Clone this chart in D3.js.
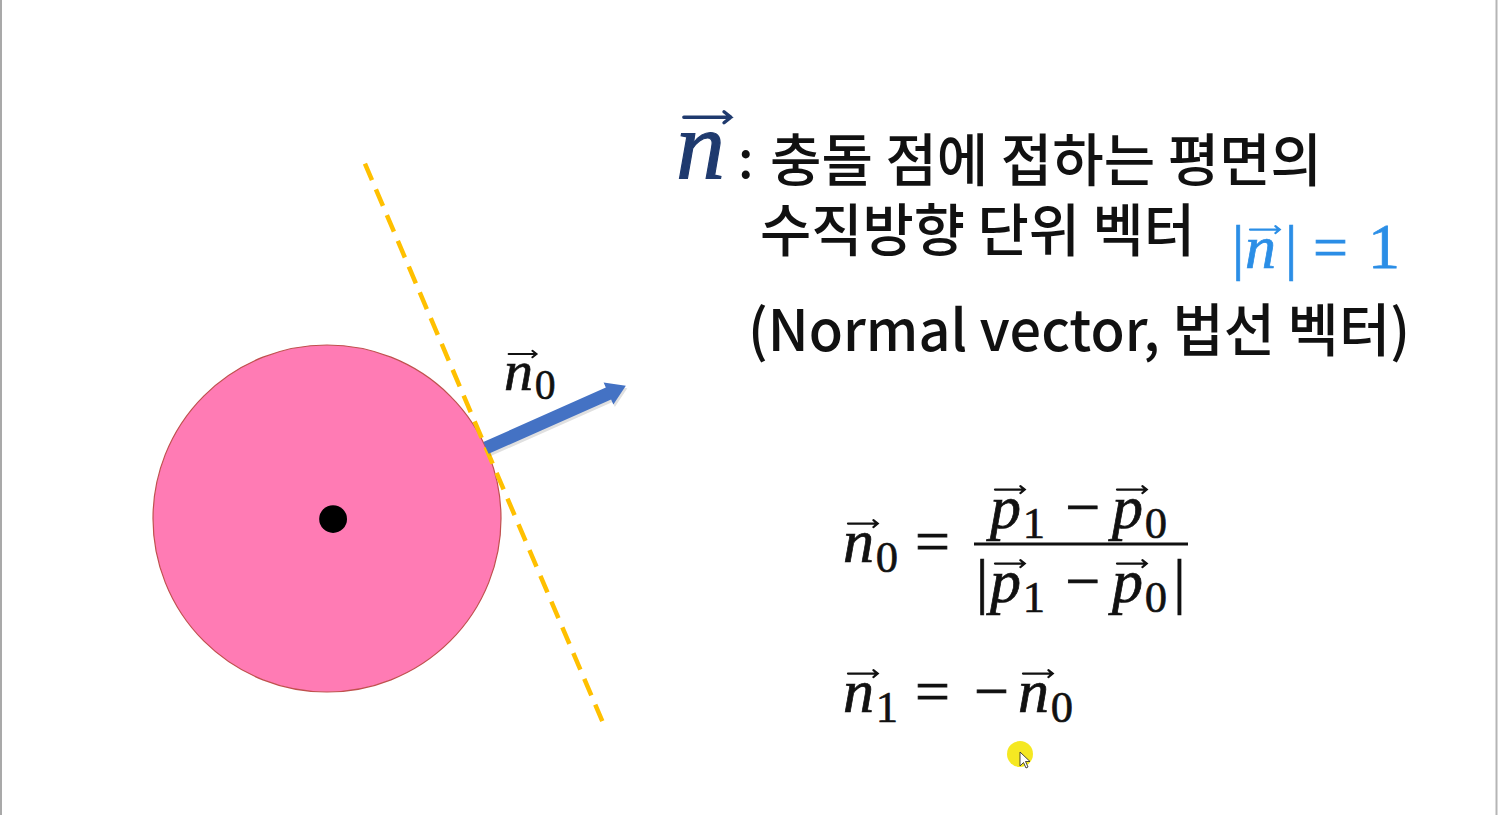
<!DOCTYPE html>
<html>
<head>
<meta charset="utf-8">
<script src="https://cdn.jsdelivr.net/npm/d3@7"></script>
<style>
  html, body { margin: 0; padding: 0; background: #fff; }
  svg { display: block; }
</style>
</head>
<body>
<div id="slide"></div>
<script>
// scene values, in "body radius" units (center of the ball is the origin, y up)
var bodyCenter = [0, 0];
var bodyRadius = 1;
var dotRadius = 0.08;
var normalAngle = 24;          // degrees above horizontal
var normalLength = 0.88;
var tangentRange = [-1.78, 1.73];

// text of the slide
var titleLines = ["충돌 점에 접하는 평면의", "수직방향 단위 벡터", "(Normal vector, 법선 벡터)"];
var unitNote = ["|", "n", "|", "=", "1"];
var formulaTerms = ["p", "1", "p", "0"];

var W = 1498, H = 815;
var svg = d3.select("#slide").append("svg")
  .attr("width", W)
  .attr("height", H);

svg.append("rect").attr("width", W).attr("height", H).attr("fill", "#fff");
// thin frame of the video window
svg.append("line").attr("x1", 1).attr("x2", 1).attr("y1", 0).attr("y2", H)
  .attr("stroke", "#a9a9a9").attr("stroke-width", 2);
svg.append("line").attr("x1", 1496.5).attr("x2", 1496.5).attr("y1", 0).attr("y2", H)
  .attr("stroke", "#b5b5b5").attr("stroke-width", 2);

var x = d3.scaleLinear().domain([-1, 1]).range([153, 501]);
var y = d3.scaleLinear().domain([-1, 1]).range([692, 345]);

var rad = normalAngle * Math.PI / 180;
var nx = Math.cos(rad), ny = Math.sin(rad);
var contact = [bodyCenter[0] + bodyRadius * nx, bodyCenter[1] + bodyRadius * ny];

// ball
svg.append("ellipse")
  .attr("cx", x(bodyCenter[0]))
  .attr("cy", y(bodyCenter[1]))
  .attr("rx", x(bodyRadius) - x(0))
  .attr("ry", y(0) - y(bodyRadius))
  .attr("fill", "#ff7bb4")
  .attr("stroke", "#c0504d")
  .attr("stroke-width", 1.2);

svg.append("ellipse")
  .attr("cx", x(bodyCenter[0] + 0.035))
  .attr("cy", y(bodyCenter[1] - 0.003))
  .attr("rx", x(dotRadius) - x(0))
  .attr("ry", y(0) - y(dotRadius))
  .attr("fill", "#000");

// tangent plane (dashed), perpendicular to the normal at the contact point
var tAngle = (normalAngle - 1) * Math.PI / 180;
var tx = Math.sin(tAngle), ty = -Math.cos(tAngle);
var tangent = tangentRange.map(function(t) {
  return [contact[0] + t * tx, contact[1] + t * ty];
});
svg.append("line")
  .attr("x1", x(tangent[0][0])).attr("y1", y(tangent[0][1]))
  .attr("x2", x(tangent[1][0])).attr("y2", y(tangent[1][1]))
  .attr("stroke", "#ffc000")
  .attr("stroke-width", 4.5)
  .attr("stroke-dasharray", "18,10");

// normal arrow
var p0 = [x(contact[0]), y(contact[1])];
var p1 = [x(contact[0] + normalLength * nx), y(contact[1] + normalLength * ny)];
var dx = p1[0] - p0[0], dy = p1[1] - p0[1];
var len = Math.sqrt(dx * dx + dy * dy);
var ux = dx / len, uy = dy / len, vx = -uy, vy = ux;
var shaft = 6.5, head = 12, headLen = 19;
var bx = p1[0] - ux * headLen, by = p1[1] - uy * headLen;
var arrowPts = [
  [p0[0] + vx * shaft, p0[1] + vy * shaft],
  [bx + vx * shaft, by + vy * shaft],
  [bx + vx * head, by + vy * head],
  p1,
  [bx - vx * head, by - vy * head],
  [bx - vx * shaft, by - vy * shaft],
  [p0[0] - vx * shaft, p0[1] - vy * shaft]
];
svg.append("polygon")
  .attr("points", arrowPts.map(function(p) { return (p[0] + 1.5) + "," + (p[1] + 2.5); }).join(" "))
  .attr("fill", "#000").attr("opacity", 0.12);
svg.append("polygon")
  .attr("points", arrowPts.map(function(p) { return p.join(","); }).join(" "))
  .attr("fill", "#4472c4");

// vector symbol helper: italic letter, small arrow on top, optional subscript
var mathFont = "'Liberation Serif', 'DejaVu Serif', serif";
function vec(g, px, base, letter, sub, size, color) {
  var t = g.append("text")
    .attr("x", px).attr("y", base)
    .attr("font-family", mathFont)
    .attr("font-style", "italic")
    .attr("font-size", size)
    .attr("fill", color)
    .attr("stroke", color)
    .attr("stroke-width", size * 0.012)
    .text(letter);
  var w = t.node().getComputedTextLength();
  var ay = base - size * 0.62;
  var ax0 = px + size * 0.08, ax1 = px + w + size * 0.06;
  var hs = size * 0.07;
  g.append("path")
    .attr("d", "M" + ax0 + "," + ay + "L" + ax1 + "," + ay +
      "M" + (ax1 - hs) + "," + (ay - hs * 0.8) + "L" + ax1 + "," + ay + "L" + (ax1 - hs) + "," + (ay + hs * 0.8))
    .attr("fill", "none")
    .attr("stroke", color)
    .attr("stroke-width", Math.max(1.8, size * 0.035))
    .attr("stroke-linecap", "round");
  var end = px + w;
  if (sub !== null) {
    var s = g.append("text")
      .attr("x", end + size * 0.03).attr("y", base + size * 0.16)
      .attr("font-family", mathFont)
      .attr("font-size", size * 0.72)
      .attr("fill", color)
      .attr("stroke", color)
      .attr("stroke-width", size * 0.01)
      .text(sub);
    end += size * 0.03 + s.node().getComputedTextLength();
  }
  return end;
}

function plain(g, px, base, str, size, color) {
  var t = g.append("text")
    .attr("x", px).attr("y", base)
    .attr("font-family", mathFont)
    .attr("font-size", size)
    .attr("fill", color)
    .attr("stroke", color)
    .attr("stroke-width", size * 0.012)
    .text(str);
  return px + t.node().getComputedTextLength();
}

var math = svg.append("g");

// label of the arrow
vec(math, 504, 390, "n", "0", 58, "#111");

// title: big n with colon
vec(math, 676, 178, "n", null, 98, "#1f3a6e");

var kr = "'Noto Sans CJK KR', 'Noto Sans', sans-serif";
svg.append("text")
  .attr("x", 738).attr("y", 178)
  .attr("font-family", kr).attr("font-size", 52).attr("font-weight", 500).attr("fill", "#111")
  .text(":");

var lineSpec = [[770, 181, 552], [760, 251, 435], [748, 351, 662]];
svg.selectAll("text.title")
  .data(titleLines)
  .join("text")
  .attr("class", "title")
  .attr("x", function(d, i) { return lineSpec[i][0]; })
  .attr("y", function(d, i) { return lineSpec[i][1]; })
  .attr("textLength", function(d, i) { return lineSpec[i][2]; })
  .attr("lengthAdjust", "spacingAndGlyphs")
  .attr("font-family", kr)
  .attr("font-size", 57)
  .attr("font-weight", 500)
  .attr("fill", "#111")
  .text(function(d) { return d; });

// |n| = 1
var blue = "#2b8ee6";
plain(math, 1232, 268, unitNote[0], 62, blue);
vec(math, 1245, 268, unitNote[1], null, 62, blue);
plain(math, 1285, 268, unitNote[2], 62, blue);
plain(math, 1313, 268, unitNote[3], 62, blue);
plain(math, 1368, 268, unitNote[4], 64, blue);

// n0 = (p1 - p0) / |p1 - p0|
var fs = 62, ink = "#111";
vec(math, 843, 562, "n", "0", fs, ink);
plain(math, 915, 562, "=", fs, ink);
var nx1 = vec(math, 990, 528, formulaTerms[0], formulaTerms[1], fs, ink);
plain(math, nx1 + 20, 528, "\u2212", fs, ink);
vec(math, 1112, 528, formulaTerms[2], formulaTerms[3], fs, ink);
math.append("line")
  .attr("x1", 974).attr("x2", 1188).attr("y1", 544).attr("y2", 544)
  .attr("stroke", ink).attr("stroke-width", 3);
plain(math, 976, 602, "|", fs, ink);
var dx1 = vec(math, 990, 602, formulaTerms[0], formulaTerms[1], fs, ink);
plain(math, dx1 + 20, 602, "\u2212", fs, ink);
var dx2 = vec(math, 1112, 602, formulaTerms[2], formulaTerms[3], fs, ink);
plain(math, dx2 + 6, 602, "|", fs, ink);

// n1 = -n0
vec(math, 843, 712, "n", "1", fs, ink);
plain(math, 915, 712, "=", fs, ink);
plain(math, 974, 712, "\u2212", fs, ink);
vec(math, 1018, 712, "n", "0", fs, ink);

// mouse pointer highlight
svg.append("circle")
  .attr("cx", 1020).attr("cy", 754).attr("r", 13)
  .attr("fill", "#f4e60a").attr("opacity", 0.9);
svg.append("path")
  .attr("d", "M1020,752 L1020,766 L1023.5,762.5 L1026,768 L1028,767 L1025.5,761.5 L1030,761.5 Z")
  .attr("fill", "#fff").attr("stroke", "#333").attr("stroke-width", 0.9);
</script>
</body>
</html>
